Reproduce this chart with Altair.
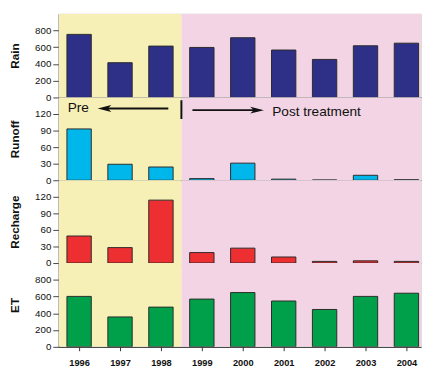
import altair as alt
import pandas as pd

years = [1996, 1997, 1998, 1999, 2000, 2001, 2002, 2003, 2004]
rain = [753, 415, 613, 597, 713, 566, 454, 617, 648]
runoff = [93, 29, 24, 3, 31, 2, 0.5, 9, 1]
recharge = [49, 28, 114, 19, 27, 11, 3, 4, 3]
et = [602, 357, 474, 570, 648, 547, 446, 602, 640]

panels = ["Rain", "Runoff", "Recharge", "ET"]
colors = ["#2E3087", "#00B7EB", "#EE2F32", "#00A04B"]
ymax = [1000, 150, 150, 1000]
yticks = [[0, 200, 400, 600, 800], [0, 30, 60, 90, 120],
          [0, 30, 60, 90, 120], [0, 200, 400, 600, 800]]
heights = [86, 85, 85, 86]

x_domain = [1995.5, 2004.357]
period_names = ["Pre", "Post"]
period_start = [1995.5, 1998.5]
period_end = [1998.5, 2004.357]
period_colors = ["#F6F0B6", "#F2D4E4"]

# annotation (data units: year, runoff)
ann_text = ["Pre", "Post treatment"]
ann_text_x = [1995.72, 2000.72]
ann_text_y = [130, 124]
arrow_tail = [1998.18, 1998.77]
arrow_head = [1996.62, 2000.35]
arrow_y = [130, 127]
arrow_shape = ["M-1,0L1,-0.5L0.5,0L1,0.5Z", "M1,0L-1,-0.5L-0.5,0L-1,0.5Z"]
divider_x = [1998.5]
divider_y = [111]
divider_y2 = [145]

FONT = "Liberation Sans"

values = {"Rain": rain, "Runoff": runoff, "Recharge": recharge, "ET": et}
bg_df = pd.DataFrame({"period": period_names, "start": period_start, "end": period_end})
ann_df = pd.DataFrame({"label": ann_text, "x": ann_text_x, "y": ann_text_y})
arr_df = pd.DataFrame({"tail": arrow_tail, "head": arrow_head, "y": arrow_y, "shape": arrow_shape})
div_df = pd.DataFrame({"x": divider_x, "y": divider_y, "y2": divider_y2})

xscale = alt.Scale(domain=x_domain, nice=False, zero=False, padding=0)

charts = []
for i, name in enumerate(panels):
    last = i == len(panels) - 1
    df = pd.DataFrame({"year": years, "value": values[name]})
    if last:
        xaxis = alt.Axis(values=years, format="d", title=None, labelFontWeight="bold",
                         labelFontSize=9.5, tickSize=4, labelPadding=7, grid=False,
                         domainColor="#222", tickColor="#333", labelColor="#111",
                         minExtent=0)
    else:
        xaxis = alt.Axis(labels=False, ticks=False, title=None, grid=False,
                         domainColor="#222", domainWidth=1.3, minExtent=0, maxExtent=0,
                         offset=0)
    yscale = alt.Scale(domain=[0, ymax[i]], nice=False, padding=0)
    yaxis = alt.Axis(values=yticks[i], title=name, grid=False, tickSize=6,
                     labelFontSize=10, labelPadding=2, titleFontSize=12,
                     titleFontWeight="bold", titlePadding=12, domainColor="#444",
                     tickColor="#444", labelColor="#111", titleColor="#111",
                     minExtent=26, maxExtent=26)
    bg = alt.Chart(bg_df).mark_rect(clip=True).encode(
        x=alt.X("start:Q", scale=xscale, axis=xaxis),
        x2="end:Q",
        color=alt.Color("period:N", scale=alt.Scale(domain=period_names, range=period_colors), legend=None),
    )
    bars = alt.Chart(df).mark_bar(size=25, stroke="#2a2a2a", strokeWidth=1, color=colors[i], clip=True).encode(
        x=alt.X("year:Q", scale=xscale, axis=xaxis),
        y=alt.Y("value:Q", scale=yscale, axis=yaxis),
    )
    layers = [bg, bars]
    if name == "Runoff":
        rules = alt.Chart(arr_df).mark_rule(color="#111", strokeWidth=1.8).encode(
            x=alt.X("tail:Q", scale=xscale, axis=xaxis), x2="head:Q",
            y=alt.Y("y:Q", scale=yscale, axis=yaxis))
        heads = alt.Chart(arr_df).mark_point(filled=True, size=196, opacity=1, color="#111", strokeWidth=0).encode(
            x=alt.X("head:Q", scale=xscale, axis=xaxis),
            y=alt.Y("y:Q", scale=yscale, axis=yaxis),
            shape=alt.Shape("shape:N", scale=None))
        div = alt.Chart(div_df).mark_rule(color="#111", strokeWidth=2).encode(
            x=alt.X("x:Q", scale=xscale, axis=xaxis),
            y=alt.Y("y:Q", scale=yscale, axis=yaxis), y2="y2:Q")
        txt = alt.Chart(ann_df).mark_text(align="left", baseline="middle", fontSize=14, font=FONT, color="#111").encode(
            x=alt.X("x:Q", scale=xscale, axis=xaxis),
            y=alt.Y("y:Q", scale=yscale, axis=yaxis), text="label:N")
        layers += [rules, heads, div, txt]
    charts.append(alt.layer(*layers).properties(width=372, height=heights[i]))

chart = alt.vconcat(*charts, spacing=0, bounds="flush").properties(
    padding={"left": 0, "top": 0, "right": 0, "bottom": 0}
).configure_view(stroke="#999", strokeWidth=1).configure(font=FONT)

chart.save("out.html", embed_options={"renderer": "svg", "actions": False})
